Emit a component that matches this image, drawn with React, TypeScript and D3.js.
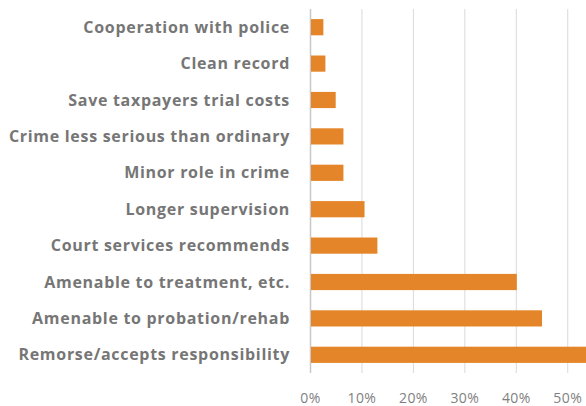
import { useEffect, useRef } from 'react';
import * as d3 from 'd3';

const categories = [
  'Cooperation with police',
  'Clean record',
  'Save taxpayers trial costs',
  'Crime less serious than ordinary',
  'Minor role in crime',
  'Longer supervision',
  'Court services recommends',
  'Amenable to treatment, etc.',
  'Amenable to probation/rehab',
  'Remorse/accepts responsibility',
];

const values = [0.025, 0.029, 0.049, 0.064, 0.064, 0.105, 0.13, 0.401, 0.45, 0.56];

const tickValues = [0, 0.1, 0.2, 0.3, 0.4, 0.5];

export default function App() {
  const svgRef = useRef<SVGSVGElement>(null);

  useEffect(() => {
    if (!svgRef.current) return;
    const svg = d3.select(svgRef.current);
    svg.selectAll('*').remove();

    const width = 586;
    const height = 406;
    const textColor = '#767676';

    const x = d3.scaleLinear().domain([0, 0.6]).range([310.5, 619.2]);
    const y = d3
      .scaleBand()
      .domain(categories)
      .range([9, 373])
      .paddingInner(0.555)
      .paddingOuter(0.2775);

    // vertical gridlines
    svg
      .append('g')
      .selectAll('line')
      .data(tickValues)
      .enter()
      .append('line')
      .attr('x1', (d) => x(d))
      .attr('x2', (d) => x(d))
      .attr('y1', 9)
      .attr('y2', 373)
      .attr('stroke', (d) => (d === 0 ? '#c8c8c8' : '#d9d9d9'))
      .attr('stroke-width', (d) => (d === 0 ? 1.5 : 1));

    // bars
    svg
      .append('g')
      .selectAll('rect')
      .data(categories)
      .enter()
      .append('rect')
      .attr('x', x(0) + 0.5)
      .attr('y', (d) => y(d) as number)
      .attr('width', (_, i) => x(values[i]) - x(0) - 0.5)
      .attr('height', y.bandwidth())
      .attr('fill', '#e58529');

    // category labels
    svg
      .append('g')
      .selectAll('text')
      .data(categories)
      .enter()
      .append('text')
      .attr('x', 290)
      .attr('y', (d) => (y(d) as number) + y.bandwidth() / 2)
      .attr('dy', '0.35em')
      .attr('text-anchor', 'end')
      .attr('font-family', '"Open Sans", sans-serif')
      .attr('font-weight', 'bold')
      .attr('font-size', 16)
      .attr('letter-spacing', 0.7)
      .attr('fill', textColor)
      .text((d) => d);

    // x tick labels
    svg
      .append('g')
      .selectAll('text')
      .data(tickValues)
      .enter()
      .append('text')
      .attr('x', (d) => x(d))
      .attr('y', 398)
      .attr('dy', '0.35em')
      .attr('text-anchor', 'middle')
      .attr('font-family', '"Open Sans", sans-serif')
      .attr('font-size', 14)
      .attr('letter-spacing', 0.4)
      .attr('fill', '#808080')
      .text((d) => d3.format('.0%')(d));

    svg.attr('width', width).attr('height', height);
  }, []);

  return (
    <svg
      ref={svgRef}
      width={586}
      height={406}
      style={{ position: 'absolute', left: 0, top: 0, background: '#fff' }}
    ></svg>
  );
}
